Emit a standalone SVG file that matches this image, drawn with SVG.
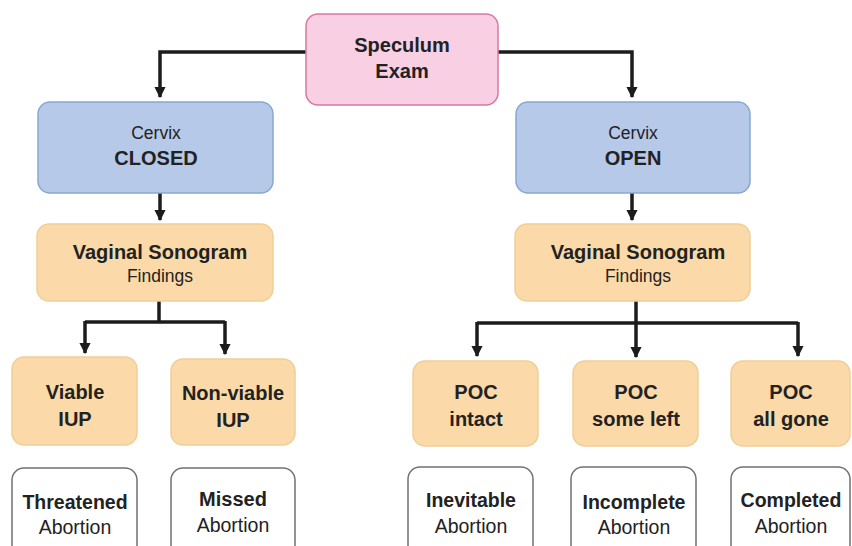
<svg xmlns="http://www.w3.org/2000/svg" width="852" height="546" viewBox="0 0 852 546">
<defs>
<style>
.t{font-family:"Liberation Sans",Arial,sans-serif;fill:#222;text-anchor:middle}
.b{font-weight:bold;font-size:20px}
.r{font-size:17.5px}
.r2{font-size:19.5px}
.pink{fill:#f9d0e3;stroke:#d877a6;stroke-width:1.5}
.blue{fill:#b6c9e8;stroke:#86a8d2;stroke-width:1.5}
.org{fill:#fbd9a9;stroke:#efcf95;stroke-width:1.5}
.wht{fill:#fff;stroke:#707070;stroke-width:1.5}
.c{fill:none;stroke:#1c1c1c;stroke-width:3.5}
</style>
<marker id="ah" viewBox="0 0 10 10" refX="9" refY="5" markerWidth="3.2" markerHeight="3.2" orient="auto" markerUnits="strokeWidth">
<path d="M0,0 L10,5 L0,10 z" fill="#1c1c1c"/>
</marker>
</defs>
<rect width="852" height="546" fill="#fff"/>
<g id="connectors">
<path class="c" d="M306,52 H160 V97" marker-end="url(#ah)"/>
<path class="c" d="M498,52 H632 V97" marker-end="url(#ah)"/>
<path class="c" d="M160,193 V220" marker-end="url(#ah)"/>
<path class="c" d="M632,193 V220" marker-end="url(#ah)"/>
<path class="c" d="M159,301 V322"/>
<path class="c" d="M85,322 H225"/>
<path class="c" d="M85,321 V353" marker-end="url(#ah)"/>
<path class="c" d="M225,321 V354" marker-end="url(#ah)"/>
<path class="c" d="M636,301 V357" marker-end="url(#ah)"/>
<path class="c" d="M477,323 H798"/>
<path class="c" d="M477,322 V356" marker-end="url(#ah)"/>
<path class="c" d="M798,322 V356" marker-end="url(#ah)"/>
</g>
<g id="speculum">
<rect class="pink" x="306" y="14" width="192" height="91" rx="12"/>
<text class="t b" x="402" y="52">Speculum</text>
<text class="t b" x="402" y="78">Exam</text>
</g>
<g id="cervix-closed">
<rect class="blue" x="38" y="102" width="235" height="91" rx="12"/>
<text class="t r" x="156" y="139">Cervix</text>
<text class="t b" x="156" y="165">CLOSED</text>
</g>
<g id="cervix-open">
<rect class="blue" x="516" y="102" width="234" height="91" rx="12"/>
<text class="t r" x="633" y="139">Cervix</text>
<text class="t b" x="633" y="165">OPEN</text>
</g>
<g id="sono-left">
<rect class="org" x="37" y="224" width="236" height="77" rx="12"/>
<text class="t b" x="160" y="259">Vaginal Sonogram</text>
<text class="t r" x="160" y="282">Findings</text>
</g>
<g id="sono-right">
<rect class="org" x="515" y="224" width="235" height="77" rx="12"/>
<text class="t b" x="638" y="259">Vaginal Sonogram</text>
<text class="t r" x="638" y="282">Findings</text>
</g>
<g id="viable">
<rect class="org" x="12" y="357" width="125" height="88" rx="12"/>
<text class="t b" x="75" y="399">Viable</text>
<text class="t b" x="75" y="426">IUP</text>
</g>
<g id="nonviable">
<rect class="org" x="171" y="359" width="124" height="86" rx="12"/>
<text class="t b" x="233" y="400">Non-viable</text>
<text class="t b" x="233" y="427">IUP</text>
</g>
<g id="poc-intact">
<rect class="org" x="413" y="361" width="125" height="85" rx="12"/>
<text class="t b" x="476" y="399">POC</text>
<text class="t b" x="476" y="426">intact</text>
</g>
<g id="poc-some">
<rect class="org" x="573" y="361" width="125" height="85" rx="12"/>
<text class="t b" x="636" y="399">POC</text>
<text class="t b" x="636" y="426">some left</text>
</g>
<g id="poc-gone">
<rect class="org" x="731" y="361" width="119" height="85" rx="12"/>
<text class="t b" x="791" y="399">POC</text>
<text class="t b" x="791" y="426">all gone</text>
</g>
<g id="threatened">
<rect class="wht" x="12" y="468" width="125" height="90" rx="12"/>
<text class="t b" x="75" y="509" style="font-size:19.5px">Threatened</text>
<text class="t r2" x="75" y="534">Abortion</text>
</g>
<g id="missed">
<rect class="wht" x="171" y="468" width="124" height="90" rx="12"/>
<text class="t b" x="233" y="506">Missed</text>
<text class="t r2" x="233" y="532">Abortion</text>
</g>
<g id="inevitable">
<rect class="wht" x="408" y="467" width="125" height="90" rx="12"/>
<text class="t b" x="471" y="507" style="font-size:19.5px">Inevitable</text>
<text class="t r2" x="471" y="533">Abortion</text>
</g>
<g id="incomplete">
<rect class="wht" x="571" y="467" width="125" height="90" rx="12"/>
<text class="t b" x="634" y="509" style="font-size:19.5px">Incomplete</text>
<text class="t r2" x="634" y="534">Abortion</text>
</g>
<g id="completed">
<rect class="wht" x="731" y="467" width="119" height="90" rx="12"/>
<text class="t b" x="791" y="507" style="font-size:19.5px">Completed</text>
<text class="t r2" x="791" y="533">Abortion</text>
</g>
</svg>
